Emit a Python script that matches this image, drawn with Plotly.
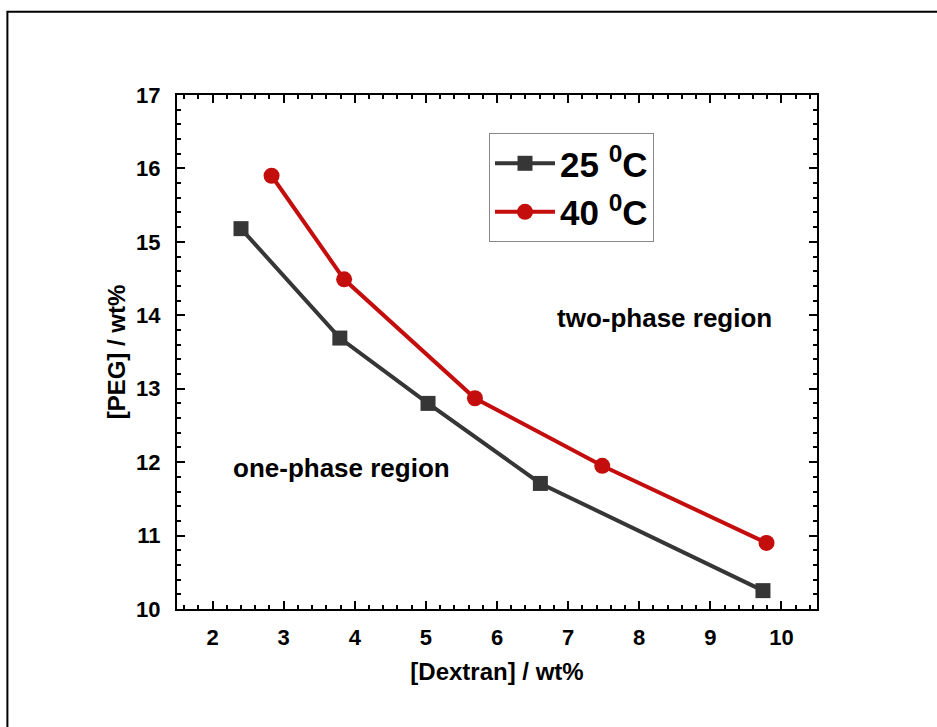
import plotly.graph_objects as go

# Binodal data: PEG vs Dextran concentrations (wt%)
dextran_25 = [2.40, 3.79, 5.03, 6.61, 9.74]
peg_25 = [15.18, 13.69, 12.80, 11.71, 10.25]

dextran_40 = [2.83, 3.85, 5.69, 7.48, 9.79]
peg_40 = [15.90, 14.49, 12.87, 11.95, 10.90]

series_names = ["25 <sup>0</sup>C", "40 <sup>0</sup>C"]
x_ticks = [2, 3, 4, 5, 6, 7, 8, 9, 10]
y_ticks = [10, 11, 12, 13, 14, 15, 16, 17]

FONT = "Liberation Sans, Arial, sans-serif"
GRAY = "#363636"
RED = "#c40d0d"

fig = go.Figure()
fig.add_trace(go.Scatter(
    x=dextran_25, y=peg_25, mode="lines+markers", name=series_names[0],
    line=dict(color=GRAY, width=4),
    marker=dict(symbol="square", size=15, color=GRAY),
))
fig.add_trace(go.Scatter(
    x=dextran_40, y=peg_40, mode="lines+markers", name=series_names[1],
    line=dict(color=RED, width=4),
    marker=dict(symbol="circle", size=16, color=RED),
))

axis_common = dict(
    showline=True, linecolor="black", linewidth=2, mirror="allticks",
    ticks="inside", ticklen=8, tickwidth=2, tickcolor="black",
    showgrid=False, zeroline=False,
    tickfont=dict(family=FONT, size=22, color="black", weight="bold"),
)

fig.update_xaxes(
    range=[1.5, 10.5], tickvals=x_ticks, ticklabelstandoff=8,
    minor=dict(dtick=0.2, ticks="inside", ticklen=4, tickwidth=2, tickcolor="black"),
    title=dict(text="[Dextran] / wt%", standoff=14,
               font=dict(family=FONT, size=24, color="black", weight="bold")),
    **axis_common,
)
fig.update_yaxes(
    range=[10, 17], tickvals=y_ticks, ticklabelstandoff=10,
    minor=dict(dtick=0.2, ticks="inside", ticklen=4, tickwidth=2, tickcolor="black"),
    title=dict(text="[PEG] / wt%", standoff=4,
               font=dict(family=FONT, size=24, color="black", weight="bold")),
    **axis_common,
)

# Region labels
fig.add_annotation(x=3.82, y=11.92, text="one-phase region", showarrow=False,
                   font=dict(family=FONT, size=26, color="black", weight="bold"))
fig.add_annotation(x=8.35, y=13.96, text="two-phase region", showarrow=False,
                   font=dict(family=FONT, size=26, color="black", weight="bold"))

# Outer frame around the figure
fig.add_shape(type="rect", xref="paper", yref="paper",
              x0=-0.265, x1=1.6, y0=-0.6, y1=1.162,
              line=dict(color="black", width=2), fillcolor="rgba(0,0,0,0)")

fig.update_layout(
    width=937, height=727,
    margin=dict(l=177, r=120, t=95, b=118),
    paper_bgcolor="white", plot_bgcolor="white",
    showlegend=True,
    legend=dict(
        x=0.4875, y=0.926, xanchor="left", yanchor="top",
        bordercolor="#888888", borderwidth=1, bgcolor="white",
        font=dict(family=FONT, size=35, color="black", weight="bold"),
        itemwidth=60, tracegroupgap=0,
    ),
)

fig.write_html("out.html")
